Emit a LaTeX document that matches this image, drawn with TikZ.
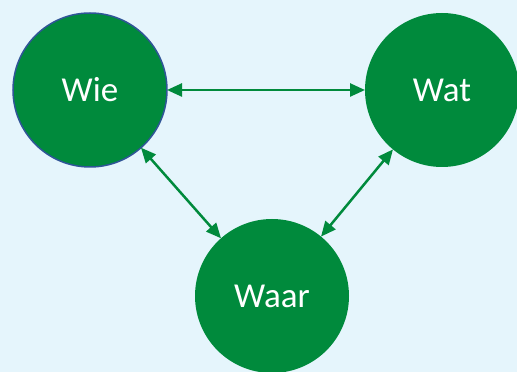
\documentclass[tikz,border=0pt]{standalone}
\usepackage{fontspec}
\setmainfont{Carlito}
\usetikzlibrary{arrows.meta}
\definecolor{bgblue}{RGB}{229,245,252}
\definecolor{ballgreen}{RGB}{0,138,60}
\definecolor{rimblue}{RGB}{47,85,151}
\tikzset{
  ball/.style={circle,fill=ballgreen,minimum size=154pt,inner sep=0pt,outer sep=0pt,
    text=white,font=\fontsize{35}{40}\selectfont},
  link/.style={ballgreen,line width=2.5pt,{Triangle[length=15pt,width=13pt]}-{Triangle[length=15pt,width=13pt]}}
}
\begin{document}
\begin{tikzpicture}[x=1pt,y=1pt]
\fill[bgblue] (0,0) rectangle (517,372);
\useasboundingbox (0,0) rectangle (517,372);
\node[ball,draw=rimblue,line width=1.5pt] (wie) at (90,282) {Wie};
\node[ball] (wat) at (442,282) {Wat};
\node[ball] (waar) at (272,76) {Waar};
\draw[link] (wie) -- (wat);
\draw[link] (wie) -- (waar);
\draw[link] (wat) -- (waar);
\end{tikzpicture}
\end{document}
